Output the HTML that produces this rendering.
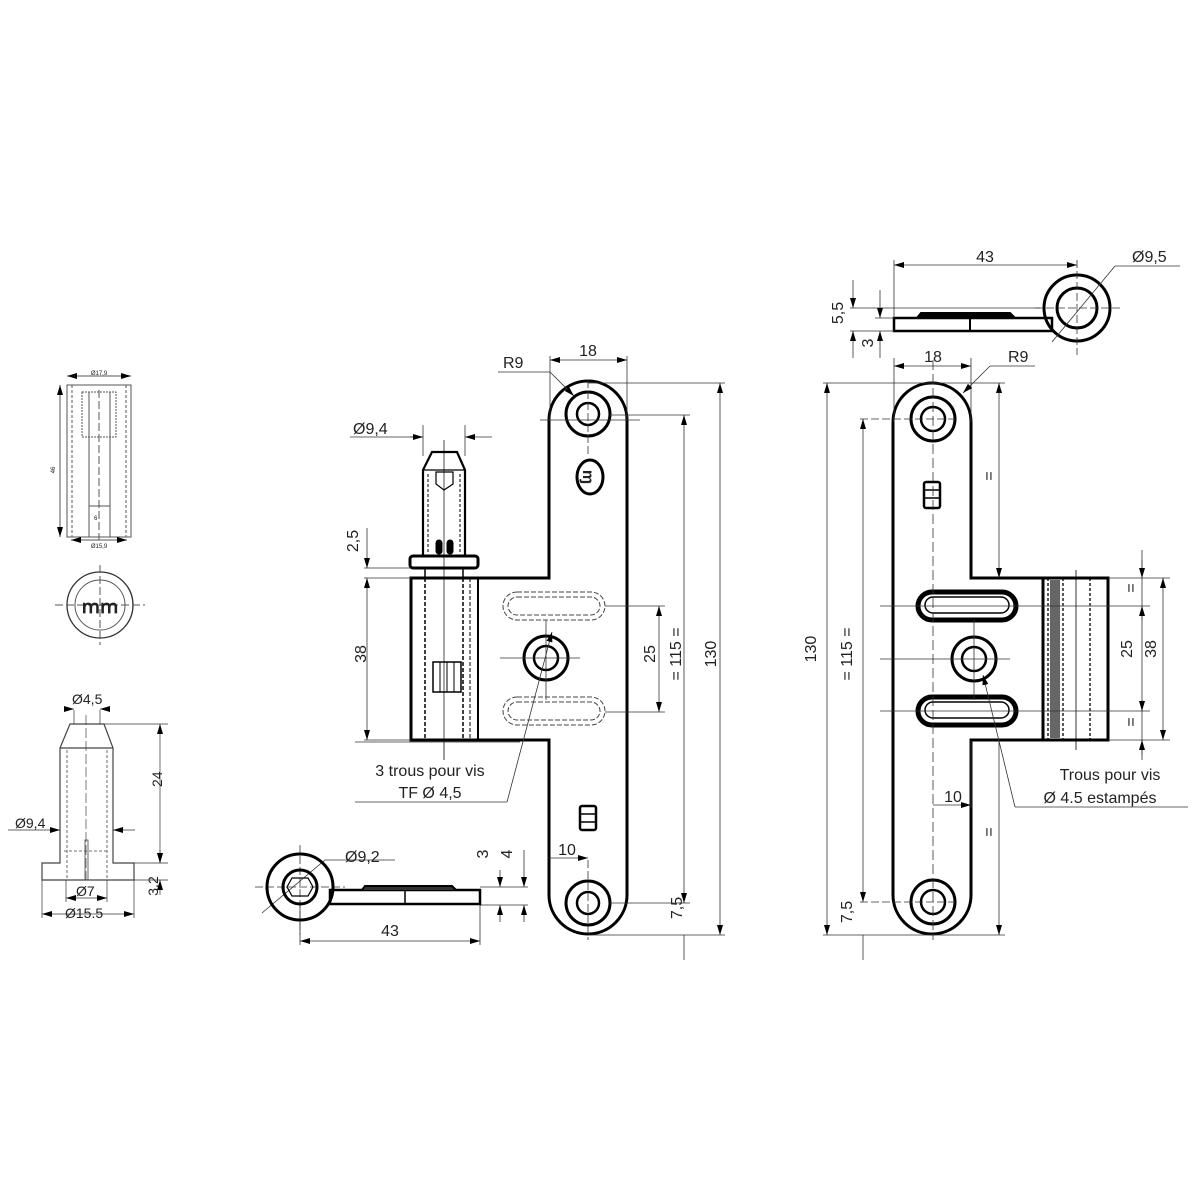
<!DOCTYPE html>
<html><head><meta charset="utf-8"><style>
html,body{margin:0;padding:0;background:#fff}
svg{display:block}
text{font-family:"Liberation Sans",sans-serif;fill:#222}
</style></head><body>
<svg width="1200" height="1200" viewBox="0 0 1200 1200" xmlns="http://www.w3.org/2000/svg">
<defs>
<marker id="a" viewBox="0 0 10 6" refX="10" refY="3" markerWidth="10" markerHeight="6" orient="auto-start-reverse" markerUnits="userSpaceOnUse"><path d="M0,0L10,3L0,6z" fill="#000"/></marker>
</defs>
<rect width="1200" height="1200" fill="#fff"/>
<g stroke="#000" fill="none">

<!-- ===== LEFT small part (top) ===== -->
<g stroke-width="1" stroke="#555">
<rect x="67" y="385" width="64" height="152"/>
<line x1="72" y1="385" x2="72" y2="537" stroke-dasharray="3,2"/>
<line x1="126" y1="385" x2="126" y2="537" stroke-dasharray="3,2"/>
<rect x="82" y="392" width="34" height="45" stroke-dasharray="2,1"/>
<line x1="89" y1="392" x2="89" y2="537"/><line x1="110" y1="392" x2="110" y2="537"/>
<line x1="99" y1="390" x2="99" y2="540" stroke-dasharray="8,3"/>
<line x1="67" y1="376" x2="131" y2="376" marker-start="url(#a)" marker-end="url(#a)"/>
<line x1="71" y1="540" x2="127" y2="540" marker-start="url(#a)" marker-end="url(#a)"/>
<line x1="60" y1="385" x2="60" y2="537" marker-start="url(#a)" marker-end="url(#a)"/>
<line x1="89" y1="506" x2="110" y2="506"/>
<circle cx="100" cy="605" r="33" stroke-width="1.3" stroke="#333"/>
<circle cx="100" cy="605" r="25"/>
<line x1="55" y1="605" x2="145" y2="605" stroke-dasharray="8,3"/>
<line x1="100" y1="565" x2="100" y2="645" stroke-dasharray="8,3"/>
</g>
<text x="99" y="375" font-size="6" text-anchor="middle" stroke="none">Ø17,9</text>
<text x="99" y="548" font-size="6" text-anchor="middle" stroke="none">Ø15,9</text>
<text x="55" y="470" font-size="6" text-anchor="middle" stroke="none" transform="rotate(-90 55 470)">46</text>
<text x="94" y="520" font-size="6" stroke="none">6</text>
<text x="100" y="613" font-size="20" text-anchor="middle" stroke="none" font-weight="bold">ՠՠ</text>

<!-- ===== LEFT pin (bottom) ===== -->
<g stroke-width="1.2" stroke="#444">
<path d="M70,724 L104,724 L113,748 L113,863 L134,863 L134,880 L42,880 L42,863 L60,863 L60,748 Z"/>
<line x1="60" y1="748" x2="113" y2="748"/>
<g stroke-dasharray="3,2" stroke-width="0.8"><line x1="67" y1="750" x2="67" y2="880"/><line x1="107" y1="750" x2="107" y2="880"/><line x1="64" y1="851" x2="109" y2="851"/></g>
<line x1="86" y1="715" x2="86" y2="880" stroke-width="0.7" stroke-dasharray="10,3"/>
<path d="M85,880 L85,840 L88,840 L88,880" stroke-width="0.8"/>
</g>
<g stroke-width="0.7" stroke="#333">
<line x1="74" y1="710" x2="74" y2="724"/><line x1="100" y1="710" x2="100" y2="724"/>
<line x1="66" y1="709" x2="74" y2="709" marker-end="url(#a)"/><line x1="108" y1="709" x2="100" y2="709" marker-end="url(#a)"/>
<line x1="104" y1="724" x2="168" y2="724"/><line x1="134" y1="863" x2="168" y2="863"/><line x1="134" y1="880" x2="168" y2="880"/>
<line x1="160" y1="724" x2="160" y2="863" marker-start="url(#a)" marker-end="url(#a)"/>
<line x1="160" y1="850" x2="160" y2="863" marker-end="url(#a)"/><line x1="160" y1="895" x2="160" y2="880" marker-end="url(#a)"/>
<line x1="8" y1="830" x2="60" y2="830" marker-end="url(#a)"/><line x1="135" y1="830" x2="113" y2="830" marker-end="url(#a)"/>
<line x1="66" y1="880" x2="66" y2="902"/><line x1="107" y1="880" x2="107" y2="902"/>
<line x1="66" y1="898" x2="107" y2="898" marker-start="url(#a)" marker-end="url(#a)"/>
<line x1="42" y1="880" x2="42" y2="918"/><line x1="134" y1="880" x2="134" y2="918"/>
<line x1="42" y1="914" x2="134" y2="914" marker-start="url(#a)" marker-end="url(#a)"/>
</g>
<g stroke="none" font-size="14">
<text x="72" y="704">Ø4,5</text><text x="15" y="828">Ø9,4</text>
<text x="175" y="800" transform="rotate(-90 162 800)">24</text>
<text x="158" y="886" text-anchor="middle" transform="rotate(-90 158 886)" dx="0" dy="0">3,2</text>
<text x="76" y="896">Ø7</text><text x="65" y="918">Ø15.5</text>
</g>

<!-- ===== MIDDLE part ===== -->
<path d="M549,420 A39,39 0 0 1 627,420 L627,895 A39,39 0 0 1 549,895 L549,740 L411,740 L411,578 L549,578 Z" stroke-width="3"/>
<line x1="478" y1="578" x2="478" y2="740" stroke-width="2"/>
<line x1="470" y1="578" x2="470" y2="740" stroke-width="1" stroke-dasharray="4,2"/>
<line x1="425" y1="578" x2="425" y2="740" stroke-width="1.5" stroke-dasharray="4,2"/>
<line x1="463" y1="578" x2="463" y2="740" stroke-width="1.5" stroke-dasharray="4,2"/>
<rect x="433" y="662" width="28" height="30" stroke-width="1.5"/>
<line x1="440" y1="662" x2="440" y2="692"/><line x1="447" y1="662" x2="447" y2="692"/><line x1="454" y1="662" x2="454" y2="692"/>
<!-- pin -->
<path d="M432,452 L457,452 L465,470 L465,556 L423,556 L423,470 Z" stroke-width="2.2"/>
<line x1="423" y1="470" x2="465" y2="470" stroke-width="1.2"/>
<path d="M436,472 L453,472 L453,484 L444,490 L436,484 Z" stroke-width="1.2"/>
<line x1="428" y1="474" x2="428" y2="552" stroke-dasharray="3,2"/><line x1="460" y1="474" x2="460" y2="552" stroke-dasharray="3,2"/>
<rect x="436" y="540" width="6" height="14" rx="3" fill="#000"/><rect x="447" y="540" width="6" height="14" rx="3" fill="#000"/>
<rect x="410" y="556" width="68" height="12" rx="3" stroke-width="3"/>
<rect x="425" y="568" width="38" height="10" stroke-width="1.5"/>
<line x1="444" y1="440" x2="444" y2="760" stroke-width="0.7"/>
<!-- holes -->
<circle cx="588" cy="414" r="22" stroke-width="3"/><circle cx="588" cy="414" r="11" stroke-width="2.5"/>
<circle cx="588" cy="903" r="22" stroke-width="3"/><circle cx="588" cy="903" r="11" stroke-width="2.5"/>
<circle cx="546" cy="658" r="22" stroke-width="3"/><circle cx="546" cy="658" r="12" stroke-width="2.5"/>
<ellipse cx="590" cy="477" rx="13" ry="17" stroke-width="3"/>
<text x="590" y="484" font-size="16" text-anchor="middle" stroke="none" font-weight="bold" transform="rotate(90 590 477)">ɱ</text>
<rect x="580" y="806" width="16" height="24" stroke-width="2.5" rx="2"/>
<line x1="580" y1="814" x2="596" y2="814" stroke-width="1.5"/><line x1="580" y1="822" x2="596" y2="822" stroke-width="1.5"/>
<g stroke-width="1" stroke-dasharray="5,2" stroke="#444">
<rect x="503" y="592" width="102" height="28" rx="14"/><rect x="508" y="597" width="92" height="18" rx="9"/>
<rect x="503" y="697" width="102" height="28" rx="14"/><rect x="508" y="702" width="92" height="18" rx="9"/>
</g>
<g stroke-width="0.8" stroke="#333">
<line x1="540" y1="420" x2="640" y2="420"/><line x1="588" y1="380" x2="588" y2="455" stroke-dasharray="8,3"/>
<line x1="500" y1="658" x2="580" y2="658"/><line x1="546" y1="620" x2="546" y2="700"/>
<line x1="588" y1="860" x2="588" y2="940" stroke-dasharray="8,3"/>
<line x1="550" y1="356" x2="550" y2="420"/><line x1="627" y1="356" x2="627" y2="420"/>
<line x1="550" y1="360" x2="627" y2="360" marker-start="url(#a)" marker-end="url(#a)"/>
<line x1="498" y1="372" x2="550" y2="372"/><line x1="550" y1="372" x2="574" y2="396" marker-end="url(#a)"/>
<line x1="588" y1="383" x2="725" y2="383"/><line x1="588" y1="935" x2="725" y2="935"/>
<line x1="720" y1="383" x2="720" y2="935" marker-start="url(#a)" marker-end="url(#a)"/>
<line x1="610" y1="415" x2="690" y2="415"/><line x1="610" y1="903" x2="690" y2="903"/>
<line x1="684" y1="415" x2="684" y2="903" marker-start="url(#a)" marker-end="url(#a)"/>
<line x1="684" y1="935" x2="684" y2="960"/>
<line x1="605" y1="606" x2="665" y2="606"/><line x1="605" y1="712" x2="665" y2="712"/>
<line x1="659" y1="606" x2="659" y2="712" marker-start="url(#a)" marker-end="url(#a)"/>
<line x1="350" y1="437" x2="423" y2="437"/><line x1="423" y1="425" x2="423" y2="456"/><line x1="465" y1="425" x2="465" y2="456"/>
<line x1="410" y1="437" x2="423" y2="437" marker-end="url(#a)"/><line x1="492" y1="437" x2="465" y2="437" marker-end="url(#a)"/>
<line x1="364" y1="568" x2="410" y2="568"/><line x1="364" y1="578" x2="411" y2="578"/><line x1="364" y1="740" x2="411" y2="740"/>
<line x1="367" y1="528" x2="367" y2="568" marker-end="url(#a)"/>
<line x1="367" y1="578" x2="367" y2="740" marker-start="url(#a)" marker-end="url(#a)"/>
<line x1="355" y1="742" x2="520" y2="742"/><line x1="444" y1="742" x2="444" y2="760"/>
<line x1="355" y1="802" x2="507" y2="802"/><line x1="507" y1="802" x2="552" y2="632" marker-end="url(#a)"/>
<line x1="549" y1="858" x2="588" y2="858" marker-end="url(#a)"/>
<line x1="300" y1="845" x2="300" y2="935" stroke-dasharray="8,3"/><line x1="255" y1="887" x2="345" y2="887" stroke-dasharray="8,3"/>
<line x1="325" y1="860" x2="395" y2="860"/><line x1="262" y1="913" x2="325" y2="860"/>
<line x1="480" y1="887" x2="528" y2="887"/><line x1="480" y1="905" x2="528" y2="905"/>
<line x1="500" y1="870" x2="500" y2="887" marker-end="url(#a)"/><line x1="500" y1="922" x2="500" y2="905" marker-end="url(#a)"/>
<line x1="524" y1="850" x2="524" y2="887" marker-end="url(#a)"/><line x1="524" y1="922" x2="524" y2="905" marker-end="url(#a)"/>
<line x1="300" y1="905" x2="300" y2="945"/><line x1="480" y1="905" x2="480" y2="945"/>
<line x1="300" y1="941" x2="480" y2="941" marker-start="url(#a)" marker-end="url(#a)"/>
</g>
<circle cx="300" cy="887" r="33" stroke-width="3"/><circle cx="300" cy="887" r="17" stroke-width="3"/>
<polygon points="292,878 308,878 313,887 308,896 292,896 287,887" stroke-width="1.2"/>
<rect x="330" y="890" width="150" height="14" stroke-width="2.5"/>
<line x1="405" y1="890" x2="405" y2="904" stroke-width="1.5"/>
<path d="M362,890 L365,886 L452,886 L456,890" stroke-width="2" fill="#333"/>
<g stroke="none" font-size="16">
<text x="588" y="356" text-anchor="middle">18</text><text x="503" y="368">R9</text>
<text x="353" y="434">Ø9,4</text>
<text x="365" y="548" text-anchor="middle" transform="rotate(-90 358 548)">2,5</text>
<text x="365" y="665" text-anchor="middle" transform="rotate(-90 360 659)">38</text>
<text x="654" y="665" text-anchor="middle" transform="rotate(-90 649 659)">25</text>
<text x="680" y="665" text-anchor="middle" transform="rotate(-90 675 659)">= 115 =</text>
<text x="715" y="665" text-anchor="middle" transform="rotate(-90 710 659)">130</text>
<text x="690" y="920" text-anchor="middle" transform="rotate(-90 680 918)">7,5</text>
<text x="430" y="776" text-anchor="middle">3 trous pour vis</text>
<text x="430" y="798" text-anchor="middle">TF Ø 4,5</text>
<text x="567" y="855" text-anchor="middle">10</text>
<text x="345" y="862">Ø9,2</text>
<text x="390" y="936" text-anchor="middle">43</text>
<text x="494" y="860" text-anchor="middle" transform="rotate(-90 488 860)">3</text>
<text x="518" y="860" text-anchor="middle" transform="rotate(-90 512 860)">4</text>
</g>

<!-- ===== RIGHT part ===== -->
<path d="M893,422 A39,39 0 0 1 971,422 L971,578 L1108,578 L1108,740 L971,740 L971,895 A39,39 0 0 1 893,895 Z" stroke-width="3"/>
<line x1="1043" y1="578" x2="1043" y2="740" stroke-width="3"/>
<rect x="1050" y="580" width="10" height="158" fill="#666" stroke="none"/>
<g stroke-dasharray="3,2" stroke-width="1.3">
<line x1="1048" y1="578" x2="1048" y2="740"/><line x1="1063" y1="578" x2="1063" y2="740"/><line x1="1090" y1="578" x2="1090" y2="740"/></g>
<line x1="1076" y1="570" x2="1076" y2="750" stroke-width="0.8"/>
<circle cx="933" cy="419" r="22" stroke-width="3"/><circle cx="933" cy="419" r="12" stroke-width="2.5"/>
<circle cx="933" cy="902" r="22" stroke-width="3"/><circle cx="933" cy="902" r="12" stroke-width="2.5"/>
<circle cx="974" cy="659" r="22" stroke-width="3"/><circle cx="974" cy="659" r="12" stroke-width="2.5"/>
<rect x="918" y="592" width="98" height="28" rx="14" stroke-width="5"/><rect x="925" y="597" width="84" height="16" rx="8" stroke-width="1.5"/>
<rect x="918" y="697" width="98" height="28" rx="14" stroke-width="5"/><rect x="925" y="702" width="84" height="16" rx="8" stroke-width="1.5"/>
<rect x="924" y="482" width="16" height="26" stroke-width="2.5" rx="2"/>
<line x1="924" y1="490" x2="940" y2="490" stroke-width="1.5"/><line x1="924" y1="498" x2="940" y2="498" stroke-width="1.5"/>
<circle cx="1077" cy="308" r="33" stroke-width="3"/><circle cx="1077" cy="308" r="20" stroke-width="3"/>
<rect x="894" y="318" width="158" height="13" stroke-width="2.5"/>
<line x1="970" y1="318" x2="970" y2="331" stroke-width="2"/>
<path d="M917,318 L921,313 L1010,313 L1015,318" stroke-width="2" fill="#000"/>
<g stroke-width="0.8" stroke="#333">
<line x1="1077" y1="260" x2="1077" y2="355" stroke-dasharray="8,3"/><line x1="1035" y1="308" x2="1120" y2="308" stroke-dasharray="8,3"/>
<line x1="1052" y1="342" x2="1115" y2="266"/><line x1="1115" y1="266" x2="1180" y2="266"/>
<line x1="894" y1="260" x2="894" y2="318"/><line x1="894" y1="265" x2="1077" y2="265" marker-start="url(#a)" marker-end="url(#a)"/>
<line x1="850" y1="308" x2="1040" y2="308"/><line x1="850" y1="331" x2="894" y2="331"/><line x1="875" y1="318" x2="894" y2="318"/>
<line x1="853" y1="280" x2="853" y2="308" marker-end="url(#a)"/><line x1="853" y1="358" x2="853" y2="331" marker-end="url(#a)"/>
<line x1="880" y1="290" x2="880" y2="318" marker-end="url(#a)"/><line x1="880" y1="358" x2="880" y2="331" marker-end="url(#a)"/>
<line x1="894" y1="358" x2="894" y2="422"/><line x1="971" y1="358" x2="971" y2="422"/>
<line x1="894" y1="366" x2="971" y2="366" marker-start="url(#a)" marker-end="url(#a)"/>
<line x1="1035" y1="366" x2="990" y2="366"/><line x1="990" y1="366" x2="963" y2="393" marker-end="url(#a)"/>
<line x1="823" y1="383" x2="1005" y2="383"/><line x1="823" y1="935" x2="1005" y2="935"/>
<line x1="827" y1="383" x2="827" y2="935" marker-start="url(#a)" marker-end="url(#a)"/>
<line x1="860" y1="419" x2="955" y2="419" stroke-dasharray="8,3"/><line x1="860" y1="902" x2="955" y2="902" stroke-dasharray="8,3"/>
<line x1="863" y1="419" x2="863" y2="902" marker-start="url(#a)" marker-end="url(#a)"/>
<line x1="863" y1="935" x2="863" y2="960"/>
<line x1="933" y1="360" x2="933" y2="940" stroke-dasharray="10,4"/>
<line x1="999" y1="383" x2="999" y2="578" marker-start="url(#a)" marker-end="url(#a)"/>
<line x1="999" y1="740" x2="999" y2="935" marker-end="url(#a)"/>
<line x1="880" y1="606" x2="1150" y2="606"/><line x1="880" y1="711" x2="1150" y2="711"/>
<line x1="880" y1="659" x2="1010" y2="659"/><line x1="974" y1="620" x2="974" y2="700"/>
<line x1="1108" y1="578" x2="1170" y2="578"/><line x1="1108" y1="740" x2="1170" y2="740"/>
<line x1="1142" y1="550" x2="1142" y2="760"/>
<line x1="1142" y1="560" x2="1142" y2="578" marker-end="url(#a)"/><line x1="1142" y1="620" x2="1142" y2="606" marker-end="url(#a)"/>
<line x1="1142" y1="700" x2="1142" y2="711" marker-end="url(#a)"/><line x1="1142" y1="755" x2="1142" y2="740" marker-end="url(#a)"/>
<line x1="1163" y1="578" x2="1163" y2="740" marker-start="url(#a)" marker-end="url(#a)"/>
<line x1="1015" y1="807" x2="1188" y2="807"/><line x1="1015" y1="807" x2="983" y2="675" marker-end="url(#a)"/>
<line x1="933" y1="805" x2="971" y2="805" marker-end="url(#a)"/><line x1="971" y1="740" x2="971" y2="808"/>
</g>
<g stroke="none" font-size="16">
<text x="985" y="262" text-anchor="middle">43</text><text x="1132" y="262">Ø9,5</text>
<text x="850" y="320" text-anchor="middle" transform="rotate(-90 843 320)">5,5</text>
<text x="876" y="350" text-anchor="middle" transform="rotate(-90 871 348)">3</text>
<text x="933" y="362" text-anchor="middle">18</text><text x="1008" y="362">R9</text>
<text x="822" y="655" text-anchor="middle" transform="rotate(-90 816 655)">130</text>
<text x="858" y="660" text-anchor="middle" transform="rotate(-90 852 660)">= 115 =</text>
<text x="858" y="918" text-anchor="middle" transform="rotate(-90 852 918)">7,5</text>
<text x="994" y="484" text-anchor="middle" transform="rotate(-90 990 480)">=</text>
<text x="994" y="840" text-anchor="middle" transform="rotate(-90 990 836)">=</text>
<text x="1136" y="596" text-anchor="middle" transform="rotate(-90 1132 592)">=</text>
<text x="1136" y="730" text-anchor="middle" transform="rotate(-90 1132 726)">=</text>
<text x="1138" y="655" text-anchor="middle" transform="rotate(-90 1132 655)">25</text>
<text x="1162" y="655" text-anchor="middle" transform="rotate(-90 1156 655)">38</text>
<text x="1110" y="780" text-anchor="middle">Trous pour vis</text>
<text x="1100" y="803" text-anchor="middle">Ø 4.5 estampés</text>
<text x="953" y="802" text-anchor="middle">10</text>
</g>
</g>
</svg>
</body></html>
